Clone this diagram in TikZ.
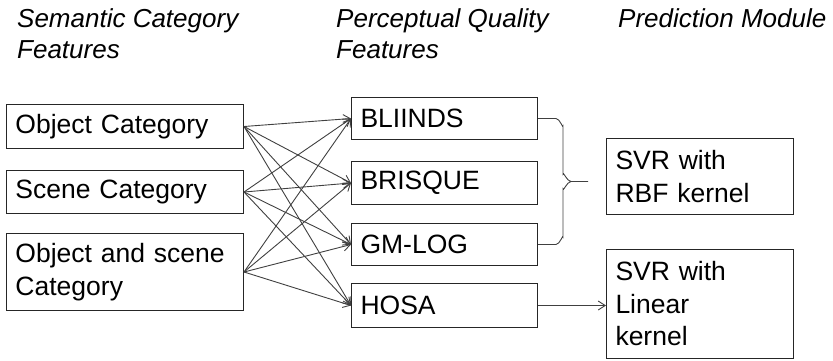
\documentclass[tikz,border=0pt]{standalone}
\usepackage{fontspec}
\setmainfont{Liberation Sans}
\usepackage{tikz}
\usetikzlibrary{calc}
\usetikzlibrary{positioning, arrows.meta}
\tikzstyle{arrow} = [line width=0.9pt, color=black!75, -{Straight Barb[length=7pt,width=9pt,line width=0.9pt]}]
\tikzstyle{featbox} = [rectangle, anchor=north west, draw=black!85, line width=1pt, inner xsep=9pt, inner ysep=0pt, align=left, text=black, font=\fontsize{26.5}{32.5}\selectfont]
\tikzstyle{headtext} = [anchor=north west, inner sep=0pt, align=left, font=\fontsize{26}{31}\selectfont\itshape]

\begin{document}
\begin{tikzpicture}[x=1pt,y=-1pt]
    \useasboundingbox (0,0) rectangle (833,360);
    % column titles
    \node[headtext](h_sem) at (17,8) {Semantic Category\\Features};
    \node[headtext](h_per) at (336,8) {Perceptual Quality\\Features};
    \node[headtext](h_pre) at (618,8) {Prediction Module};
    % semantic features
    \node[featbox,minimum width=237pt,minimum height=44pt,text width=219pt](obj) at (6,104) {Object Category};
    \node[featbox,minimum width=237pt,minimum height=43pt,text width=219pt](scn) at (6,170) {Scene Category};
    \node[featbox,minimum width=237pt,minimum height=77pt,text width=219pt](obs) at (6,233) {Object and scene\\Category};
    % quality features
    \node[featbox,minimum width=186pt,minimum height=42pt,text width=168pt](bli) at (351,97) {BLIINDS};
    \node[featbox,minimum width=186pt,minimum height=43pt,text width=168pt](bri) at (351,161) {BRISQUE};
    \node[featbox,minimum width=186pt,minimum height=42pt,text width=168pt](gml) at (351,223) {GM-LOG};
    \node[featbox,minimum width=186pt,minimum height=44pt,text width=168pt](hos) at (351,283) {HOSA};
    % predictors
    \node[featbox,minimum width=187pt,minimum height=76pt,text width=169pt](rbf) at (606,138) {SVR with\\RBF kernel};
    \node[featbox,minimum width=187pt,minimum height=109pt,text width=169pt](lin) at (606,249) {SVR with\\Linear\\kernel};
    \path[arrow]
    (obj.east) edge (bli.west)
    (obj.east) edge (bri.west)
    (obj.east) edge (gml.west)
    (obj.east) edge (hos.west)
    (scn.east) edge (bli.west)
    (scn.east) edge (bri.west)
    (scn.east) edge (gml.west)
    (scn.east) edge (hos.west)
    (obs.east) edge (bli.west)
    (obs.east) edge (bri.west)
    (obs.east) edge (gml.west)
    (obs.east) edge (hos.west)
    (hos.east) edge (hos.east -| lin.west);
    % brace
    \coordinate (b_mid) at ($(bli.east)!0.5!(gml.east)+(25,0)$);
    \coordinate (b_tip) at ($(b_mid)+(25,0)$);
    \draw[line width=0.9pt, draw=black!75]
    (bli.east) -- ++(18,0) to[out=0,in=-90] ++(7,7) -- ($(b_mid)+(0,-7)$) to[out=90,in=180] ($(b_mid)+(8,0)$) -- (b_tip)
    (gml.east) -- ++(18,0) to[out=0,in=90] ++(7,-7) -- ($(b_mid)+(0,7)$) to[out=-90,in=180] ($(b_mid)+(8,0)$);
\end{tikzpicture}
\end{document}
